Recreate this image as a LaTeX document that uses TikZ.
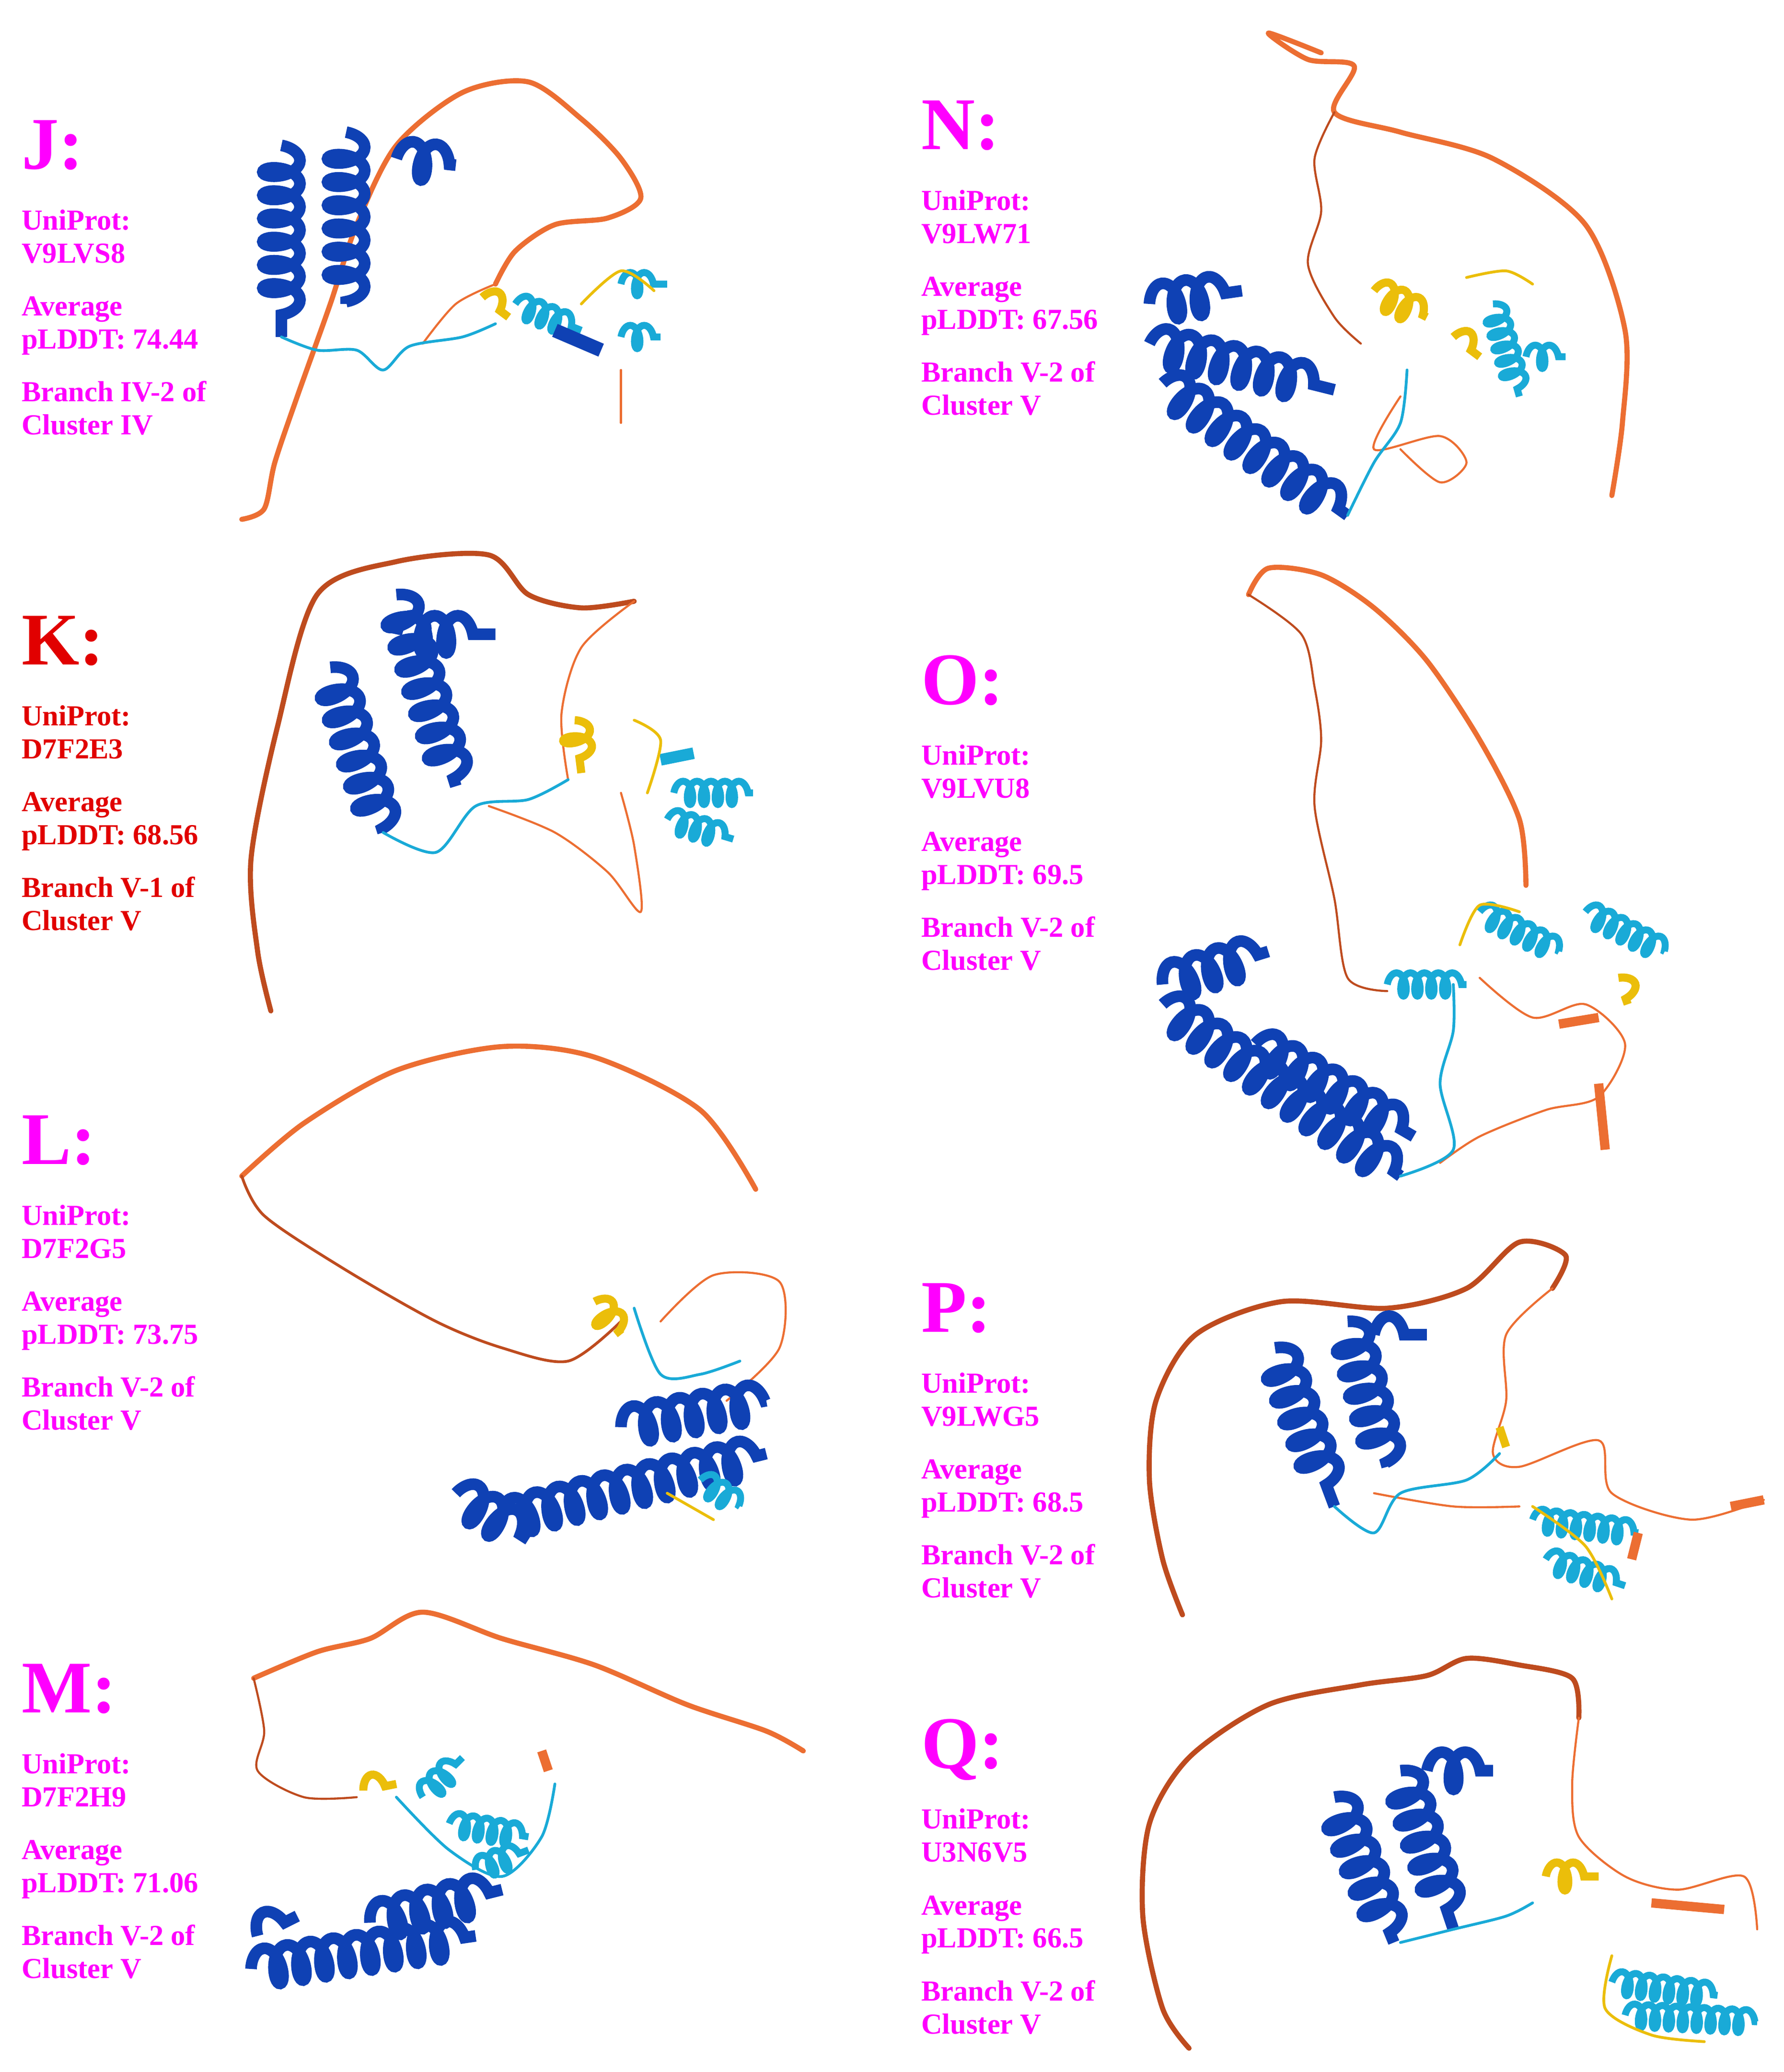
\documentclass[tikz,border=0pt]{standalone}
\usepackage{fontspec}
\setmainfont{Liberation Serif}
\usetikzlibrary{decorations.pathmorphing}
\definecolor{mag}{RGB}{255,0,255}
\definecolor{kred}{RGB}{225,0,0}
\definecolor{lorange}{RGB}{236,110,50}
\definecolor{dorange}{RGB}{190,75,30}
\definecolor{pblue}{RGB}{15,65,180}
\definecolor{pcyan}{RGB}{25,170,215}
\definecolor{pyel}{RGB}{235,190,10}
\tikzset{
 big/.style={anchor=base west,font=\bfseries\fontsize{32}{32}\selectfont,inner sep=0},
 small/.style={anchor=base west,font=\bfseries\fontsize{12.5}{13}\selectfont,inner sep=0},
 loopo/.style={draw=lorange,line width=2.2pt,line cap=round,line join=round},
 thin/.style={draw=lorange,line width=0.9pt,line cap=round},
 helixb/.style={draw=pblue,line width=5pt,decorate,decoration={coil,amplitude=8pt,segment length=10pt}},
 helixc/.style={draw=pcyan,line width=3pt,decorate,decoration={coil,amplitude=5pt,segment length=6pt}},
 helixy/.style={draw=pyel,line width=3.5pt,decorate,decoration={coil,amplitude=6pt,segment length=7pt}},
 linkc/.style={draw=pcyan,line width=1.2pt,line cap=round},
 linky/.style={draw=pyel,line width=1.2pt,line cap=round},
}
\newcommand{\paneltext}[9]{%
 \node[big,text=#8] (#9L) at (#1,#2) {#3};
 \node[small,text=#8] (#9a) at (#1,#2+46) {UniProt:};
 \node[small,text=#8] (#9b) at (#1,#2+71) {#4};
 \node[small,text=#8] (#9c) at (#1,#2+111) {Average};
 \node[small,text=#8] (#9d) at (#1,#2+136) {pLDDT: #5};
 \node[small,text=#8] (#9e) at (#1,#2+176) {#6};
 \node[small,text=#8] (#9f) at (#1,#2+201) {#7};
}
\begin{document}
\begin{tikzpicture}[x=0.02cm,y=-0.02cm]
\useasboundingbox (0,0) rectangle (1350,1568);
\paneltext{16}{128}{J:}{V9LVS8}{74.44}{Branch IV-2 of}{Cluster IV}{mag}{j}
\paneltext{16}{503}{K:}{D7F2E3}{68.56}{Branch V-1 of}{Cluster V}{kred}{k}
\paneltext{16}{881}{L:}{D7F2G5}{73.75}{Branch V-2 of}{Cluster V}{mag}{l}
\paneltext{16}{1296}{M:}{D7F2H9}{71.06}{Branch V-2 of}{Cluster V}{mag}{m}
\paneltext{697}{113}{N:}{V9LW71}{67.56}{Branch V-2 of}{Cluster V}{mag}{n}
\paneltext{697}{533}{O:}{V9LVU8}{69.5}{Branch V-2 of}{Cluster V}{mag}{o}
\paneltext{697}{1008}{P:}{V9LWG5}{68.5}{Branch V-2 of}{Cluster V}{mag}{p}
\paneltext{697}{1338}{Q:}{U3N6V5}{66.5}{Branch V-2 of}{Cluster V}{mag}{q}

% ---- J
\draw[loopo] plot[smooth] coordinates {(183,393)(200,385)(208,350)(225,300)(250,230)(270,170)(300,110)(350,70)(400,62)(440,90)(470,120)(485,150)(460,165)(420,170)(390,190)(375,215)};
\draw[thin] plot[smooth] coordinates {(375,215)(345,230)(320,260)};
\draw[helixb] (213,110) -- (213,255);
\draw[helixb] (262,100) -- (262,230);
\draw[helixb] (300,120) -- (345,125);
\draw[linkc] plot[smooth] coordinates {(213,255)(240,265)(270,265)(290,280)(310,262)(350,255)(375,245)};
\draw[helixy] (365,225) -- (385,240);
\draw[helixc] (390,230) -- (440,250);
\draw[helixc] (470,215) -- (505,215);
\draw[helixc] (470,255) -- (500,255);
\draw[draw=pblue,line width=6pt] (420,250) -- (455,265);
\draw[linky] plot[smooth] coordinates {(440,230)(470,205)(495,220)};
\draw[thin] (470,280) -- (470,320);

% ---- K
\draw[loopo,draw=dorange] plot[smooth] coordinates {(205,765)(195,720)(190,650)(210,550)(240,450)(300,425)(370,420)(400,450)(440,460)(480,455)};
\draw[thin] plot[smooth] coordinates {(480,455)(440,490)(425,540)(430,590)};
\draw[thin] plot[smooth] coordinates {(370,610)(420,630)(460,660)(485,690)(480,640)(470,600)};
\draw[helixb] (250,505) -- (290,630);
\draw[helixb] (300,450) -- (345,595);
\draw[helixb] (300,480) -- (375,480);
\draw[linkc] plot[smooth] coordinates {(290,630)(330,645)(360,610)(400,605)(430,590)};
\draw[helixy] (435,545) -- (440,585);
\draw[helixc] (510,600) -- (570,600);
\draw[helixc] (505,620) -- (555,635);
\draw[draw=pcyan,line width=5pt] (500,575) -- (525,570);
\draw[linky] plot[smooth] coordinates {(480,545)(500,560)(490,600)};

% ---- L
\draw[loopo] plot[smooth] coordinates {(183,890)(230,850)(300,810)(380,792)(450,800)(530,840)(572,900)};
\draw[loopo,draw=dorange,line width=1.2pt] plot[smooth] coordinates {(183,890)(200,920)(260,960)(330,1000)(380,1020)(430,1030)(470,1000)};
\draw[helixy] (450,985) -- (470,1010);
\draw[thin] plot[smooth] coordinates {(500,1000)(540,965)(590,970)(590,1020)(550,1060)};
\draw[helixb] (345,1130) -- (400,1165);
\draw[helixb] (380,1150) -- (580,1100);
\draw[helixb] (470,1080) -- (580,1060);
\draw[linkc] plot[smooth] coordinates {(480,990)(500,1040)(530,1040)(560,1030)};
\draw[helixc] (530,1120) -- (560,1140);
\draw[linky] (505,1130) -- (540,1150);

% ---- M
\draw[loopo] plot[smooth] coordinates {(608,1325)(580,1310)(520,1290)(450,1260)(380,1240)(320,1220)(280,1240)(240,1250)(192,1270)};
\draw[thin,draw=dorange] plot[smooth] coordinates {(192,1270)(200,1310)(195,1340)(230,1360)(270,1360)};
\draw[helixb] (195,1465) -- (225,1450);
\draw[helixb] (190,1490) -- (360,1465);
\draw[helixb] (280,1455) -- (380,1430);
\draw[helixy] (275,1355) -- (300,1350);
\draw[helixc] (320,1360) -- (350,1330);
\draw[helixc] (340,1380) -- (400,1390);
\draw[helixc] (360,1415) -- (400,1400);
\draw[linkc] plot[smooth] coordinates {(300,1360)(340,1400)(380,1420)(410,1390)(420,1350)};
\draw[draw=lorange,line width=4pt] (410,1325) -- (415,1340);

% ---- N
\draw[loopo] plot[smooth] coordinates {(1220,375)(1228,320)(1230,250)(1200,170)(1130,120)(1060,100)(1010,85)(1025,50)(990,45)(960,25)(1000,40)};
\draw[thin,draw=dorange] plot[smooth] coordinates {(1010,85)(995,120)(1000,160)(990,200)(1010,240)(1030,260)};
\draw[thin] plot[smooth] coordinates {(1060,300)(1040,340)(1090,330)(1110,350)(1090,365)(1060,340)};
\draw[helixb] (870,230) -- (940,220);
\draw[helixb] (870,260) -- (1010,295);
\draw[helixb] (880,290) -- (1020,390);
\draw[linkc] plot[smooth] coordinates {(1020,390)(1040,350)(1060,320)(1065,280)};
\draw[helixy] (1040,220) -- (1080,240);
\draw[helixy] (1100,255) -- (1120,270);
\draw[helixc] (1130,230) -- (1150,300);
\draw[helixc] (1155,270) -- (1185,270);
\draw[linky] plot[smooth] coordinates {(1110,210)(1140,205)(1160,215)};

% ---- O
\draw[loopo] plot[smooth] coordinates {(1155,670)(1150,620)(1120,560)(1080,500)(1040,460)(1000,435)(960,430)(945,450)};
\draw[thin,draw=dorange] plot[smooth] coordinates {(945,450)(985,480)(995,520)(1000,560)(995,610)(1010,680)(1020,740)(1050,750)};
\draw[thin] plot[smooth] coordinates {(1120,740)(1160,770)(1200,760)(1230,790)(1210,830)(1170,840)(1120,860)(1090,880)};
\draw[draw=lorange,line width=4pt] (1210,820) -- (1215,870);
\draw[draw=lorange,line width=4pt] (1180,775) -- (1210,770);
\draw[helixb] (880,745) -- (960,720);
\draw[helixb] (880,760) -- (1060,890);
\draw[helixb] (950,790) -- (1070,860);
\draw[linkc] plot[smooth] coordinates {(1060,890)(1100,870)(1090,820)(1100,780)(1100,745)};
\draw[helixc] (1050,745) -- (1110,745);
\draw[helixc] (1120,690) -- (1180,720);
\draw[helixc] (1200,690) -- (1260,720);
\draw[helixy] (1225,740) -- (1232,760);
\draw[linky] plot[smooth] coordinates {(1105,715)(1120,685)(1150,690)};

% ---- P
\draw[loopo,draw=dorange] plot[smooth] coordinates {(895,1222)(880,1180)(870,1120)(875,1060)(905,1010)(970,985)(1050,990)(1110,975)(1150,940)(1185,950)(1175,975)};
\draw[thin] plot[smooth] coordinates {(1175,975)(1140,1010)(1140,1060)(1130,1100)(1150,1110)(1210,1090)(1220,1130)(1280,1150)(1335,1135)};
\draw[thin] plot[smooth] coordinates {(1040,1130)(1100,1140)(1150,1140)};
\draw[helixb] (965,1020) -- (1010,1140);
\draw[helixb] (1020,1000) -- (1050,1110);
\draw[helixb] (1040,1010) -- (1080,1010);
\draw[linkc] plot[smooth] coordinates {(1010,1140)(1040,1160)(1060,1130)(1110,1120)(1135,1100)};
\draw[helixy] (1135,1080) -- (1140,1095);
\draw[helixc] (1160,1150) -- (1240,1160);
\draw[helixc] (1170,1180) -- (1230,1200);
\draw[linky] plot[smooth] coordinates {(1160,1140)(1200,1170)(1220,1210)};
\draw[draw=lorange,line width=4pt] (1310,1140) -- (1335,1135);
\draw[draw=lorange,line width=4pt] (1240,1160) -- (1235,1180);

% ---- Q
\draw[loopo,draw=dorange] plot[smooth] coordinates {(900,1550)(880,1520)(865,1450)(870,1380)(900,1330)(960,1290)(1030,1275)(1080,1268)(1110,1255)(1150,1260)(1190,1270)(1195,1300)};
\draw[thin] plot[smooth] coordinates {(1195,1300)(1190,1350)(1195,1390)(1230,1420)(1270,1430)(1320,1420)(1330,1460)};
\draw[helixb] (1010,1360) -- (1055,1470);
\draw[helixb] (1060,1340) -- (1100,1460);
\draw[helixb] (1080,1340) -- (1130,1340);
\draw[linkc] plot[smooth] coordinates {(1060,1470)(1100,1460)(1140,1450)(1160,1440)};
\draw[helixy] (1170,1420) -- (1210,1420);
\draw[draw=lorange,line width=4pt] (1250,1440) -- (1305,1445);
\draw[helixc] (1220,1500) -- (1300,1510);
\draw[helixc] (1230,1525) -- (1330,1530);
\draw[linky] plot[smooth] coordinates {(1220,1480)(1215,1520)(1250,1540)(1290,1545)};
\end{tikzpicture}
\end{document}
